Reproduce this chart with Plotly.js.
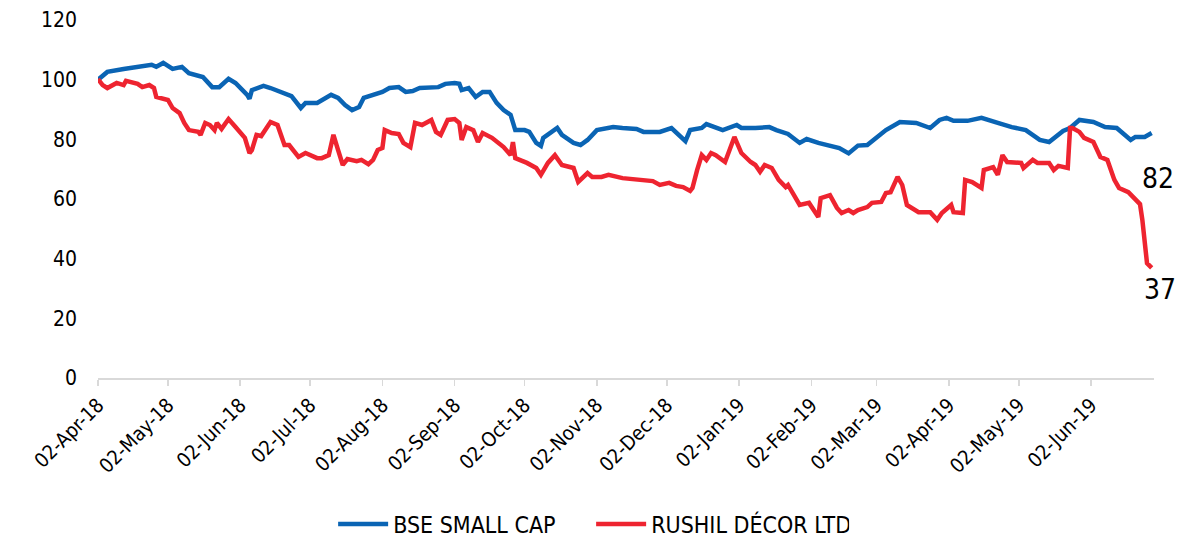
<!DOCTYPE html>
<html>
<head>
<meta charset="utf-8">
<script src="https://cdn.plot.ly/plotly-3.0.1.min.js"></script>
<style>html,body{margin:0;padding:0;background:#fff;}#chart{width:1194px;height:542px;}</style>
</head>
<body>
<div id="chart"></div>
<script>
// BSE SMALL CAP (rebased to 100)
const bseDates = ['2018-04-02','2018-04-06','2018-04-13','2018-04-20','2018-04-25','2018-04-27','2018-04-30','2018-05-04','2018-05-08','2018-05-11','2018-05-17','2018-05-21','2018-05-24','2018-05-28','2018-05-31','2018-06-05','2018-06-06','2018-06-07','2018-06-12','2018-06-15','2018-06-20','2018-06-24','2018-06-28','2018-06-30','2018-07-05','2018-07-11','2018-07-14','2018-07-17','2018-07-20','2018-07-23','2018-07-25','2018-07-29','2018-08-02','2018-08-05','2018-08-09','2018-08-12','2018-08-15','2018-08-18','2018-08-22','2018-08-26','2018-08-29','2018-09-02','2018-09-04','2018-09-05','2018-09-08','2018-09-11','2018-09-14','2018-09-17','2018-09-20','2018-09-23','2018-09-26','2018-09-28','2018-10-02','2018-10-04','2018-10-07','2018-10-09','2018-10-10','2018-10-16','2018-10-18','2018-10-23','2018-10-26','2018-10-29','2018-11-02','2018-11-07','2018-11-09','2018-11-13','2018-11-19','2018-11-22','2018-11-29','2018-12-04','2018-12-07','2018-12-10','2018-12-12','2018-12-17','2018-12-19','2018-12-23','2018-12-26','2019-01-01','2019-01-03','2019-01-09','2019-01-15','2019-01-18','2019-01-23','2019-01-28','2019-01-31','2019-02-05','2019-02-10','2019-02-14','2019-02-18','2019-02-22','2019-02-26','2019-03-02','2019-03-06','2019-03-12','2019-03-19','2019-03-25','2019-03-29','2019-04-01','2019-04-04','2019-04-10','2019-04-16','2019-04-23','2019-04-29','2019-05-05','2019-05-11','2019-05-15','2019-05-21','2019-05-24','2019-05-28','2019-06-03','2019-06-08','2019-06-13','2019-06-19','2019-06-21','2019-06-25','2019-06-28'];
const bseValues = [100,102.6,103.6,104.6,105,104.3,105.6,103.6,104.3,102.2,100.9,97.5,97.5,100.3,98.9,94.9,93.6,96.5,97.9,97.2,95.5,94.5,90.5,92.2,92.2,94.9,93.9,91.5,89.8,90.8,93.9,94.9,95.9,97.2,97.5,95.9,96.2,97.2,97.5,97.5,98.6,98.9,98.6,96.5,97.2,94.2,95.9,95.9,92.2,89.8,88.2,83.1,83.1,82.5,78.8,77.8,80.5,83.8,81.5,78.8,78.1,79.8,83.1,83.8,84.1,83.8,83.5,82.5,82.5,83.8,81.5,79.4,83.1,83.8,85.1,83.8,83.1,84.8,83.8,83.8,84.1,83.1,81.8,78.8,80.1,78.8,77.8,77.1,75.3,77.9,78.1,80.5,83.1,85.8,85.5,83.8,86.5,87.2,86.2,86.2,87.2,85.5,84.1,83.1,79.8,79.1,82.8,83.8,86.5,85.8,84.1,83.8,79.8,80.8,80.8,82.1];

// RUSHIL DÉCOR LTD (rebased to 100)
const rushilDates = ['2018-04-02','2018-04-04','2018-04-06','2018-04-10','2018-04-13','2018-04-14','2018-04-19','2018-04-21','2018-04-24','2018-04-26','2018-04-27','2018-05-02','2018-05-04','2018-05-07','2018-05-09','2018-05-11','2018-05-15','2018-05-16','2018-05-18','2018-05-20','2018-05-22','2018-05-23','2018-05-25','2018-05-28','2018-05-31','2018-06-04','2018-06-06','2018-06-07','2018-06-09','2018-06-11','2018-06-15','2018-06-18','2018-06-21','2018-06-23','2018-06-27','2018-06-30','2018-07-05','2018-07-07','2018-07-10','2018-07-12','2018-07-14','2018-07-16','2018-07-18','2018-07-22','2018-07-24','2018-07-27','2018-07-29','2018-07-31','2018-08-02','2018-08-03','2018-08-06','2018-08-09','2018-08-11','2018-08-14','2018-08-16','2018-08-19','2018-08-23','2018-08-25','2018-08-27','2018-08-30','2018-09-02','2018-09-04','2018-09-05','2018-09-07','2018-09-10','2018-09-12','2018-09-14','2018-09-18','2018-09-23','2018-09-26','2018-09-27','2018-09-28','2018-10-03','2018-10-07','2018-10-09','2018-10-12','2018-10-15','2018-10-18','2018-10-23','2018-10-24','2018-10-25','2018-10-29','2018-10-31','2018-11-04','2018-11-07','2018-11-13','2018-11-20','2018-11-26','2018-11-29','2018-12-03','2018-12-06','2018-12-09','2018-12-12','2018-12-13','2018-12-15','2018-12-17','2018-12-19','2018-12-21','2018-12-23','2018-12-27','2018-12-31','2019-01-03','2019-01-07','2019-01-09','2019-01-11','2019-01-13','2019-01-16','2019-01-19','2019-01-22','2019-01-23','2019-01-28','2019-02-01','2019-02-05','2019-02-06','2019-02-10','2019-02-13','2019-02-15','2019-02-18','2019-02-20','2019-02-22','2019-02-26','2019-02-28','2019-03-04','2019-03-06','2019-03-08','2019-03-11','2019-03-13','2019-03-15','2019-03-20','2019-03-25','2019-03-28','2019-03-30','2019-04-03','2019-04-04','2019-04-08','2019-04-09','2019-04-12','2019-04-16','2019-04-17','2019-04-21','2019-04-23','2019-04-25','2019-04-27','2019-05-03','2019-05-04','2019-05-08','2019-05-10','2019-05-15','2019-05-17','2019-05-19','2019-05-23','2019-05-24','2019-05-25','2019-05-28','2019-05-30','2019-06-03','2019-06-06','2019-06-09','2019-06-12','2019-06-14','2019-06-18','2019-06-21','2019-06-23','2019-06-24','2019-06-25','2019-06-26','2019-06-28'];
const rushilValues = [100.2,98.2,97.2,98.9,98.2,99.6,98.6,97.5,98.2,97.2,94.2,93.2,90.5,88.8,85.5,83.1,82.5,81.5,85.5,84.8,83.1,85.5,83.5,86.8,84.1,80.5,75.4,76.4,81.5,81.1,85.8,84.8,78.1,78.1,74.1,75.4,73.7,73.7,74.7,81.5,76.4,71.4,73.4,72.7,73.1,71.7,73.1,76.4,77.1,83.1,82.1,81.8,78.8,77.4,85.5,84.8,86.5,82.5,81.5,86.5,86.8,85.5,79.8,84.1,83.1,79.1,82.1,80.5,77.4,74.7,79.1,73.7,72.1,70.4,68.1,72.1,74.7,71.4,70.4,68.1,65.7,68.7,67.4,67.4,68.1,67.0,66.4,66.0,64.7,65.4,64.4,64.0,62.7,63.7,69.7,74.7,73.1,75.4,74.7,72.4,80.8,75.4,72.4,71.4,69.1,71.4,70.4,66.4,64.0,64.7,58.0,58.7,54.0,60.3,61.3,57.0,55.3,56.3,55.3,56.3,57.3,58.7,59.0,62.0,62.3,67.4,64.7,58.0,55.6,55.6,53.0,55.3,58.0,55.6,55.3,66.4,65.7,63.7,69.7,70.7,68.1,74.7,72.4,72.1,70.4,73.1,72.1,72.1,69.7,71.1,70.4,83.8,83.8,82.5,80.5,79.1,74.1,73.1,66.4,63.7,62.3,59.7,58.3,53.0,43.9,38.5,36.9];

const seriesNames = ['BSE SMALL CAP', 'RUSHIL DÉCOR LTD'];
const endLabels = ['82', '37'];
const yTicks = [0, 20, 40, 60, 80, 100, 120];

const blue = '#0A64B4';
const red = '#EE2430';
const fontFam = 'DejaVu Sans Condensed, Liberation Sans Narrow, Liberation Sans, sans-serif';

const traces = [
  {x: bseDates, y: bseValues, name: seriesNames[0], type: 'scatter', mode: 'lines',
   line: {color: blue, width: 4.5, shape: 'linear'}},
  {x: rushilDates, y: rushilValues, name: seriesNames[1], type: 'scatter', mode: 'lines',
   line: {color: red, width: 4.5, shape: 'linear'}}
];

const layout = {
  width: 1194, height: 542,
  margin: {l: 98, r: 40, t: 20, b: 164, autoexpand: false},
  paper_bgcolor: '#fff', plot_bgcolor: '#fff',
  font: {family: fontFam, color: '#000', size: 19},
  showlegend: true,
  legend: {orientation: 'h', xref: 'container', yref: 'container',
           x: 0.279, xanchor: 'left', y: 0.033, yanchor: 'middle',
           entrywidth: 193, entrywidthmode: 'pixels', itemwidth: 50,
           font: {family: fontFam, size: 23, color: '#000'}, tracegroupgap: 0},
  xaxis: {
    type: 'date', automargin: false,
    range: ['2018-04-02', '2019-06-29'],
    tick0: '2018-04-02', dtick: 'M1', tickformat: '%d-%b-%y', tickangle: -45,
    showgrid: false, zeroline: false,
    showline: true, linecolor: '#d9d9d9', linewidth: 1.5,
    ticks: 'outside', ticklen: 6, tickcolor: '#d9d9d9', tickwidth: 1.5,
    tickfont: {family: fontFam, size: 20, color: '#000'}
  },
  yaxis: {
    automargin: false,
    range: [0, 120], tickvals: yTicks, ticktext: yTicks.map(String),
    showgrid: false, zeroline: false, showline: false, ticks: '',
    ticklabelstandoff: 20,
    tickfont: {family: fontFam, size: 21, color: '#000'}
  },
  annotations: [
    {x: bseDates[bseDates.length-1], y: bseValues[bseValues.length-1], xref: 'x', yref: 'y',
     text: endLabels[0], showarrow: false, xanchor: 'center', yanchor: 'middle', xshift: 6, yshift: -45,
     font: {family: fontFam, size: 28, color: '#000'}},
    {x: rushilDates[rushilDates.length-1], y: rushilValues[rushilValues.length-1], xref: 'x', yref: 'y',
     text: endLabels[1], showarrow: false, xanchor: 'center', yanchor: 'middle', xshift: 8, yshift: -22,
     font: {family: fontFam, size: 28, color: '#000'}}
  ]
};

Plotly.newPlot('chart', traces, layout, {displayModeBar: false, staticPlot: true});
</script>
</body>
</html>
